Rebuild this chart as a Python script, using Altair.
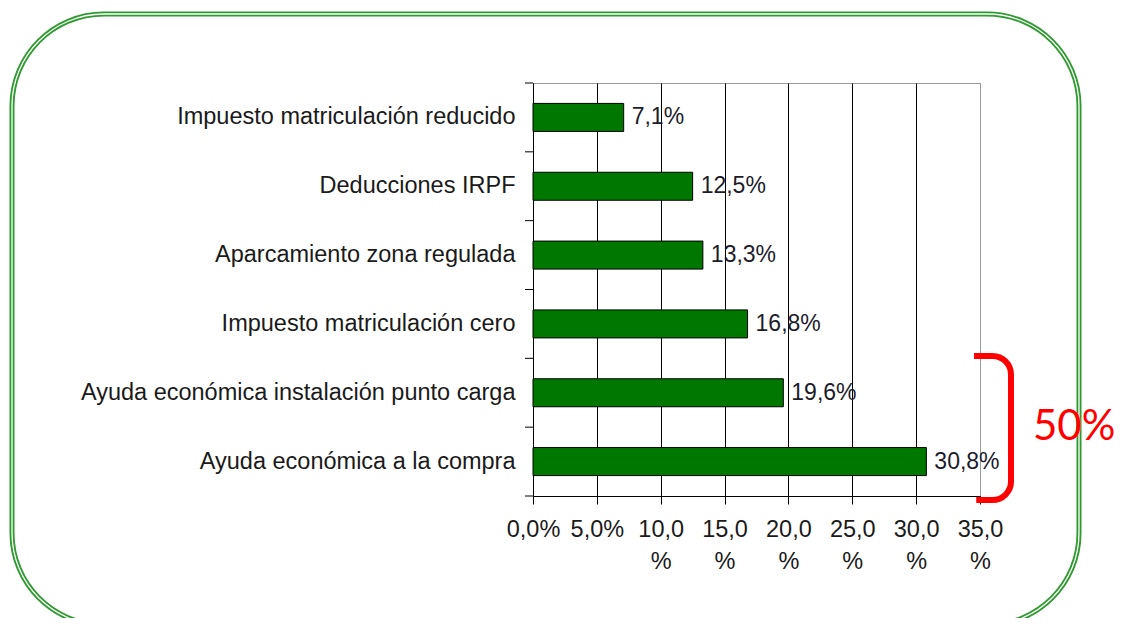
import altair as alt
import pandas as pd

categories = [
    "Impuesto matriculación reducido",
    "Deducciones IRPF",
    "Aparcamiento zona regulada",
    "Impuesto matriculación cero",
    "Ayuda económica instalación punto carga",
    "Ayuda económica a la compra",
]
values = [7.1, 12.5, 13.3, 16.8, 19.6, 30.8]
x_ticks = [0, 5, 10, 15, 20, 25, 30, 35]
bracket_text = ["50%"]

df = pd.DataFrame({
    "cat": categories,
    "val": values,
    "lab": [f"{v:.1f}".replace(".", ",") + "%" for v in values],
})
one = pd.DataFrame({"t": bracket_text})

W, H = 447, 413
step = H / len(categories)
BAR = 28
FONT = "Liberation Sans"
TXT = "#1a1a1a"
FS = 23.5

yscale = alt.Scale(domain=categories, paddingInner=1 - BAR / step, paddingOuter=(1 - BAR / step) / 2)
xscale = alt.Scale(domain=[0, 35], nice=False, zero=True)

label_expr = (
    "datum.value < 10 ? replace(format(datum.value, '.1f'), '.', ',') + '%' : "
    "[replace(format(datum.value, '.1f'), '.', ','), '%']"
)

border_g = alt.Chart(one).mark_rect(
    filled=False, stroke="#2f9a2f", strokeWidth=5, cornerRadius=92
).encode(x=alt.value(-521), x2=alt.value(546), y=alt.value(-69), y2=alt.value(542))
border_w = alt.Chart(one).mark_rect(
    filled=False, stroke="white", strokeWidth=1.3, cornerRadius=92
).encode(x=alt.value(-521), x2=alt.value(546), y=alt.value(-69), y2=alt.value(542))

bars = alt.Chart(df).mark_bar(color="#007800", stroke="black", strokeWidth=1).encode(
    x=alt.X(
        "val:Q", scale=xscale,
        axis=alt.Axis(
            values=x_ticks, labelExpr=label_expr, title=None, grid=True,
            gridColor={"condition": {"test": "datum.value >= 35", "value": "#999999"}, "value": "black"},
            gridWidth=1, tickSize=8, tickColor="black", domainColor="black",
            labelPadding=13, labelLineHeight=32, labelFontSize=FS, labelFont=FONT,
            labelColor=TXT, labelFlush=False, labelOverlap=False,
        ),
    ),
    y=alt.Y(
        "cat:N", scale=yscale, sort=categories,
        axis=alt.Axis(
            title=None, ticks=False, tickSize=0, labelLimit=700, labelPadding=18,
            labelFontSize=FS, labelFont=FONT, labelColor=TXT, domainColor="black",
        ),
    ),
)

texts = alt.Chart(df).mark_text(
    align="left", baseline="middle", dx=8, fontSize=FS - 0.5, font=FONT, color="#1c1c2a"
).encode(
    x=alt.X("val:Q", scale=xscale),
    y=alt.Y("cat:N", scale=yscale, sort=categories),
    text="lab:N",
)

yticks = alt.Chart(df).mark_rule(color="black", strokeWidth=1).encode(
    y=alt.Y("cat:N", scale=yscale, sort=categories),
    yOffset=alt.value(-(step - BAR) / 2),
    x=alt.value(-8), x2=alt.value(0),
)
ytick_bottom = alt.Chart(one).mark_rule(color="black", strokeWidth=1).encode(
    y=alt.value(H), x=alt.value(-8), x2=alt.value(0)
)

bracket = alt.Chart(one).mark_rect(
    filled=False, stroke="#ff0000", strokeWidth=6,
    cornerRadiusTopRight=22, cornerRadiusBottomRight=22,
    strokeDash=[199.5, 300],
).encode(x=alt.value(441), x2=alt.value(478), y=alt.value(273), y2=alt.value(417))

big = alt.Chart(one).mark_text(
    align="left", baseline="alphabetic", font="Lato", fontSize=42, color="#ff0000"
).encode(x=alt.value(500), y=alt.value(357), text="t:N")

chart = alt.layer(
    border_g, border_w, bars, texts, yticks, ytick_bottom, bracket, big
).properties(
    width=W, height=H,
    autosize=alt.AutoSizeParams(type="none"),
    padding={"left": 525, "top": 75, "right": 137, "bottom": 122},
).configure_view(stroke="#999999", strokeWidth=1)

chart.save("out.html", embed_options={"renderer": "svg", "actions": False})
